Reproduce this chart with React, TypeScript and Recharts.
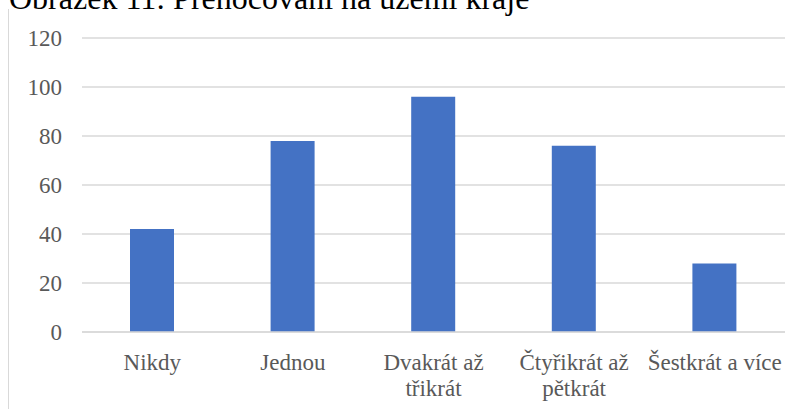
import React from "react";
import { BarChart, Bar, XAxis, YAxis, CartesianGrid } from "recharts";

const categories = ["Nikdy", "Jednou", "Dvakrát až třikrát", "Čtyřikrát až pětkrát", "Šestkrát a více"];
const values = [42, 78, 96, 76, 28];
const yTicks = [0, 20, 40, 60, 80, 100, 120];
const title = "Obrázek 11: Přenocování na území kraje";

const data = categories.map((name, i) => ({ name, value: values[i] }));

const FONT = "'Liberation Serif', 'Times New Roman', serif";
const TICK_SIZE = 23;

let ctx: CanvasRenderingContext2D | null = null;
function measure(s: string): number {
  if (!ctx) {
    const c = document.createElement("canvas");
    ctx = c.getContext("2d");
  }
  if (!ctx) return s.length * TICK_SIZE * 0.45;
  ctx.font = `${TICK_SIZE}px 'Liberation Serif'`;
  return ctx.measureText(s).width;
}

function wrap(label: string, maxW: number): string[] {
  const words = label.split(" ");
  const lines: string[] = [];
  let cur = "";
  for (const w of words) {
    const next = cur ? cur + " " + w : w;
    if (cur && measure(next) > maxW) {
      lines.push(cur);
      cur = w;
    } else {
      cur = next;
    }
  }
  if (cur) lines.push(cur);
  return lines;
}

const XTick = (props: any) => {
  const { x, y, payload } = props;
  const lines = wrap(String(payload.value), 138);
  return (
    <text
      x={x}
      y={y}
      textAnchor="middle"
      fill="#595959"
      fontFamily={FONT}
      fontSize={TICK_SIZE}
    >
      {lines.map((l, i) => (
        <tspan key={i} x={x} dy={i === 0 ? 38 : 26}>
          {l}
        </tspan>
      ))}
    </text>
  );
};

export default function App() {
  return (
    <div style={{ position: "absolute", left: 0, top: 0, width: 805, height: 409, background: "#fff", overflow: "hidden" }}>
      <svg width={805} height={409} style={{ position: "absolute", left: 0, top: 0 }}>
        <line x1={8.5} y1={9} x2={8.5} y2={409} stroke="#d9d9d9" strokeWidth={1} />
        <text x={9} y={9} fontFamily={FONT} fontSize={32} fill="#000">{title}</text>
      </svg>
      <div style={{ position: "absolute", left: 0, top: 0 }}>
        <BarChart width={805} height={409} data={data} margin={{ top: 38, right: 20, bottom: 0, left: 0 }}>
          <CartesianGrid vertical={false} stroke="#d9d9d9" strokeWidth={1.3} />
          <XAxis
            dataKey="name"
            height={77}
            axisLine={{ stroke: "#d9d9d9", strokeWidth: 1.3 }}
            tickLine={false}
            tickSize={0}
            tickMargin={0}
            interval={0}
            tick={<XTick />}
          />
          <YAxis
            width={82}
            domain={[0, 120]}
            ticks={yTicks}
            axisLine={false}
            tickLine={false}
            tickMargin={14}
            tick={{ fill: "#595959", fontSize: 23, fontFamily: FONT }}
          />
          <Bar dataKey="value" fill="#4472c4" barSize={44} isAnimationActive={false} />
        </BarChart>
      </div>
    </div>
  );
}
